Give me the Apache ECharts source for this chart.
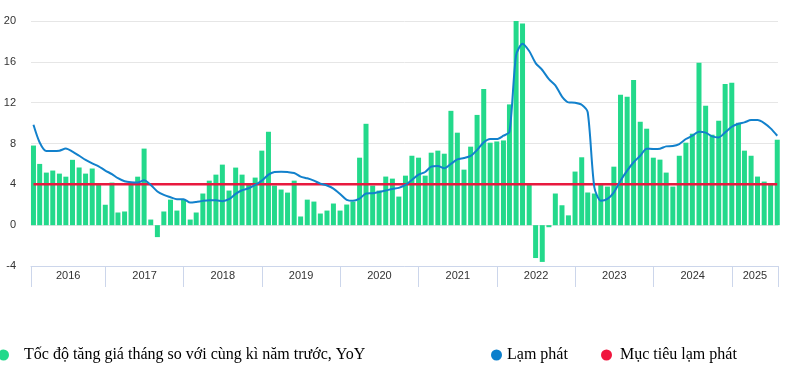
<!DOCTYPE html>
<html><head><meta charset="utf-8">
<script src="https://cdn.jsdelivr.net/npm/echarts@6/dist/echarts.min.js"></script>
<style>html,body{margin:0;padding:0;background:#fff}#c{width:792px;height:391px}</style>
</head><body><div id="c"></div>
<script>
// ---- data ----
const startYear = 2016;
const seriesNames = ['Tốc độ tăng giá tháng so với cùng kì năm trước, YoY', 'Lạm phát', 'Mục tiêu lạm phát'];
const yoyValues = [
  7.8, 6.0, 5.15, 5.35, 5.05, 4.75, 6.4, 5.65, 5.05, 5.55, 4.0, 2.0,
  4.17, 1.24, 1.34, 4.07, 4.75, 7.5, 0.55, -1.17, 1.34, 2.5, 1.43, 2.5,
  0.55, 1.24, 3.1, 4.36, 4.95, 5.93, 3.39, 5.64, 4.95, 4.07, 4.66, 7.3,
  9.15, 3.88, 3.49, 3.19, 4.36, 0.85, 2.5, 2.31, 1.14, 1.43, 2.12, 1.43,
  2.02, 2.31, 6.61, 9.93, 3.88, 3.39, 4.76, 4.56, 2.8, 4.85, 6.8, 6.61,
  4.85, 7.1, 7.3, 7.0, 11.2, 9.06, 5.44, 7.69, 10.8, 13.35, 8.08, 8.2,
  8.3, 11.83, 20.0, 19.75, 4.0, -3.22, -3.6, -0.2, 3.1, 1.95, 0.96, 5.25,
  6.65, 3.2, 3.1, 4.0, 3.78, 5.73, 12.77, 12.57, 14.23, 10.13, 9.45, 6.61,
  6.42, 5.15, 3.78, 6.8, 8.08, 8.96, 15.9, 11.7, 8.86, 10.23, 13.84, 13.94,
  10.03, 7.3, 6.8, 4.76, 4.27, 4.0, 8.37
];
const inflationValues = [
  9.84, 8.1, 7.26, 7.26, 7.3, 7.5, 7.2, 6.8, 6.4, 6.05, 5.77, 5.35,
  5.0, 4.6, 4.3, 4.2, 4.17, 4.4, 3.94, 3.3, 2.96, 2.74, 2.54, 2.55,
  2.22, 2.28, 2.38, 2.44, 2.44, 2.35, 2.54, 3.06, 3.42, 3.62, 3.94, 4.36,
  4.95, 5.21, 5.24, 5.2, 5.11, 4.76, 4.59, 4.36, 4.07, 3.88, 3.58, 3.06,
  2.48, 2.38, 2.6, 3.1, 3.13, 3.25, 3.39, 3.55, 3.65, 3.94, 4.43, 4.95,
  5.21, 5.73, 5.8, 5.57, 6.0, 6.45, 6.58, 6.78, 7.36, 8.11, 8.44, 8.44,
  8.76, 9.14, 16.65, 17.78, 17.06, 15.88, 15.2, 14.3, 13.7, 12.6, 12.03, 12.0,
  11.8, 11.06, 3.7, 2.4, 2.57, 3.22, 4.36, 5.34, 6.16, 6.8, 7.49, 7.46,
  7.49, 7.72, 7.75, 7.95, 8.44, 8.76, 9.15, 9.06, 8.7, 8.6, 9.09, 9.64,
  9.93, 10.07, 10.29, 10.29, 10.0, 9.48, 8.76
];
const targetValue = 4;
const yearLabels = [2016, 2017, 2018, 2019, 2020, 2021, 2022, 2023, 2024, 2025];
const yTicks = [-4, 0, 4, 8, 12, 16, 20];

// month categories (YYYY-MM), one per value
const months = yoyValues.map((_, i) => (startYear + Math.floor(i / 12)) + '-' + String(i % 12 + 1).padStart(2, '0'));
const monthEnd = s => { const [y, m] = s.split('-').map(Number); return new Date(y, m, 0, 12).getTime(); };
const dates = months.map(monthEnd);

// ---- layout ----
const axisMin = new Date(2016, 0, 20).getTime();
const axisMax = new Date(2025, 7, 4).getTime();
const yearStart = y => new Date(y, 0, 1).getTime();
const tickValues = [axisMin].concat(yearLabels.slice(1).map(yearStart)).concat([axisMax]);
const labelValues = yearLabels.map(y => (Math.max(axisMin, yearStart(y)) + Math.min(axisMax, yearStart(y + 1))) / 2);

const chart = echarts.init(document.getElementById('c'), null, { renderer: 'canvas' });
const legendText = { fontFamily: 'Liberation Serif', fontSize: 16, color: '#000' };
const legendBase = { top: 347, padding: 0, icon: 'circle', itemWidth: 11, itemHeight: 11, selectedMode: false };
chart.setOption({
  animation: false,
  backgroundColor: '#fff',
  grid: { left: 31, right: 14, top: 21, bottom: 125, containLabel: false },
  legend: [
    Object.assign({ data: [seriesNames[0]], left: -2, textStyle: Object.assign({ padding: [0, 0, 0, 10] }, legendText) }, legendBase),
    Object.assign({ data: [seriesNames[1]], left: 491, textStyle: Object.assign({}, legendText) }, legendBase),
    Object.assign({ data: [seriesNames[2]], left: 601, textStyle: Object.assign({ padding: [0, 0, 0, 3] }, legendText) }, legendBase)
  ],
  xAxis: {
    type: 'value', min: axisMin, max: axisMax, scale: true,
    axisLine: { show: true, onZero: false, lineStyle: { color: '#ccd6eb', width: 1 } },
    axisTick: { show: true, length: 21, customValues: tickValues, lineStyle: { color: '#ccd6eb', width: 1 } },
    axisLabel: { customValues: labelValues, margin: 4, fontFamily: 'Liberation Sans', fontSize: 11, color: '#333',
      formatter: v => String(new Date(v).getFullYear()) },
    splitLine: { show: false }
  },
  yAxis: {
    type: 'value', min: yTicks[0], max: yTicks[yTicks.length - 1], interval: 4,
    axisLine: { show: false }, axisTick: { show: false },
    axisLabel: { margin: 15, fontFamily: 'Liberation Sans', fontSize: 11, color: '#333' },
    splitLine: { lineStyle: { color: '#e6e6e6', width: 1 } }
  },
  series: [
    { name: seriesNames[0], type: 'bar', barWidth: 5, clip: false,
      itemStyle: { color: '#23d98b' },
      data: dates.map((d, i) => [d, yoyValues[i]]), z: 2 },
    { name: seriesNames[2], type: 'line', showSymbol: false, symbol: 'none',
      itemStyle: { color: '#f0163e' }, lineStyle: { color: '#e8193f', width: 2.5 },
      data: dates.map(d => [d, targetValue]), z: 3 },
    { name: seriesNames[1], type: 'line', showSymbol: false, symbol: 'none', smooth: 0.25,
      itemStyle: { color: '#0b7fcc' }, lineStyle: { color: '#1281cc', width: 2 },
      data: dates.map((d, i) => [d, inflationValues[i]]), z: 4 }
  ]
});
</script></body></html>
